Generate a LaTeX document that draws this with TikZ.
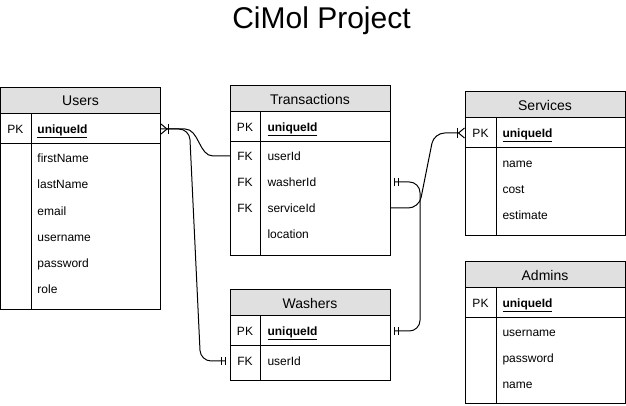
\documentclass[tikz,border=0pt]{standalone}
\usepackage{fontspec}
\setmainfont{Liberation Sans}
\usepackage{tikz}
\usetikzlibrary{arrows.meta, positioning}
\definecolor{headgray}{HTML}{E0E0E0}
\tikzstyle{head} = [
    draw,
    fill=headgray,
    anchor=north west,
    minimum width=120pt,
    minimum height=19.5pt,
    inner sep=0pt,
    outer sep=0pt,
    font=\fontsize{10.5}{12}\selectfont
]
\tikzstyle{keyrow} = [draw, minimum width=120pt, minimum height=22.5pt, inner sep=0pt, outer sep=0pt]
\tikzstyle{bodyrow} = [keyrow]
\tikzstyle{key} = [inner sep=0pt, text height=8.3pt, text depth=1.9pt, font=\fontsize{9}{11}\selectfont]
\tikzstyle{field} = [anchor=west, inner sep=0pt, text height=8.3pt, text depth=1.9pt, font=\fontsize{9}{11}\selectfont]
\tikzstyle{idfield} = [field, font=\fontsize{9}{11}\selectfont\bfseries]
\tikzstyle{link} = [rounded corners=8pt]
\tikzset{
    crow/.tip = {Bar[width=7.5pt, sep=0pt] Straight Barb[reversed, length=4.5pt, width=7.5pt]},
    mandatory/.tip = {Bar[width=6pt, sep=2pt] Bar[width=6pt, sep=3pt]}
}

\begin{document}
\begin{tikzpicture}[x=0.75pt, y=-0.75pt, line width=0.75pt]
    \useasboundingbox (0, 0) rectangle (626, 406);

    \node (title) at (321.5, 21) {\fontsize{22.5}{26}\selectfont CiMol Project};

    % Users.
    \node (users) [head] at (0.5, 88) {Users};
    \node (users key) [keyrow, below=0pt of users] {};
    \node (users body) [bodyrow, minimum height=124.5pt, below=0pt of users key] {};
    \draw ([xshift=23.25pt]users key.north west) -- ([xshift=23.25pt]users body.south west);
    \node (users pk) [key] at (15.5, 129) {PK};
    \node (users id) [idfield] at (37, 129) {\underline{uniqueId}};
    \node (users first) [field] at (37, 158) {firstName};
    \node (users last) [field] at (37, 184) {lastName};
    \node (users email) [field] at (37, 211) {email};
    \node (users name) [field] at (37, 237) {username};
    \node (users pass) [field] at (37, 263) {password};
    \node (users role) [field] at (37, 289) {role};

    % Transactions.
    \node (trans) [head] at (230, 86) {Transactions};
    \node (trans key) [keyrow, below=0pt of trans] {};
    \node (trans body) [bodyrow, minimum height=85.5pt, below=0pt of trans key] {};
    \draw ([xshift=22.5pt]trans key.north west) -- ([xshift=22.5pt]trans body.south west);
    \node (trans pk) [key] at (245, 127) {PK};
    \node (trans id) [idfield] at (267, 127) {\underline{uniqueId}};
    \node (trans fk 1) [key] at (245, 156) {FK};
    \node (trans fk 2) [key] at (245, 182) {FK};
    \node (trans fk 3) [key] at (245, 208) {FK};
    \node (trans user) [field] at (267, 156) {userId};
    \node (trans washer) [field] at (267, 182) {washerId};
    \node (trans service) [field] at (267, 208) {serviceId};
    \node (trans place) [field] at (267, 234) {location};

    % Services.
    \node (services) [head] at (465, 92) {Services};
    \node (services key) [keyrow, below=0pt of services] {};
    \node (services body) [bodyrow, minimum height=66pt, below=0pt of services key] {};
    \draw ([xshift=23.25pt]services key.north west) -- ([xshift=23.25pt]services body.south west);
    \node (services pk) [key] at (480.5, 133) {PK};
    \node (services id) [idfield] at (502, 133) {\underline{uniqueId}};
    \node (services name) [field] at (502, 163) {name};
    \node (services cost) [field] at (502, 189) {cost};
    \node (services time) [field] at (502, 215) {estimate};

    % Admins.
    \node (admins) [head] at (465, 262) {Admins};
    \node (admins key) [keyrow, below=0pt of admins] {};
    \node (admins body) [bodyrow, minimum height=64.5pt, below=0pt of admins key] {};
    \draw ([xshift=23.25pt]admins key.north west) -- ([xshift=23.25pt]admins body.south west);
    \node (admins pk) [key] at (480.5, 303) {PK};
    \node (admins id) [idfield] at (502, 303) {\underline{uniqueId}};
    \node (admins user) [field] at (502, 332) {username};
    \node (admins pass) [field] at (502, 358) {password};
    \node (admins name) [field] at (502, 384) {name};

    % Washers.
    \node (washers) [head] at (230, 290) {Washers};
    \node (washers key) [keyrow, below=0pt of washers] {};
    \node (washers body) [bodyrow, minimum height=26.25pt, below=0pt of washers key] {};
    \draw ([xshift=22.5pt]washers key.north west) -- ([xshift=22.5pt]washers body.south west);
    \node (washers pk) [key] at (245, 331) {PK};
    \node (washers id) [idfield] at (267, 331) {\underline{uniqueId}};
    \node (washers fk) [key] at (245, 361) {FK};
    \node (washers user) [field] at (267, 361) {userId};

    % Relations.
    \draw [-crow] (trans user -| trans.west) -- ++(-17, 0)
        .. controls +(-14, 0) and +(14, 0) .. ++(-28, -27) -- (users id -| users.east);
    \draw [link, -mandatory] (users id -| users.east) -- ++(29, 0)
        -- ++(11, 232) -- (washers user -| washers.west);
    \draw [link, mandatory-mandatory] (trans washer -| trans.east) -- ++(30, 0)
        |- (washers id -| washers.east);
    \draw [link, -crow] (trans service -| trans.east) -- ++(29, 0)
        -- ++(15, -75) -- (services id -| services.west);
\end{tikzpicture}
\end{document}
